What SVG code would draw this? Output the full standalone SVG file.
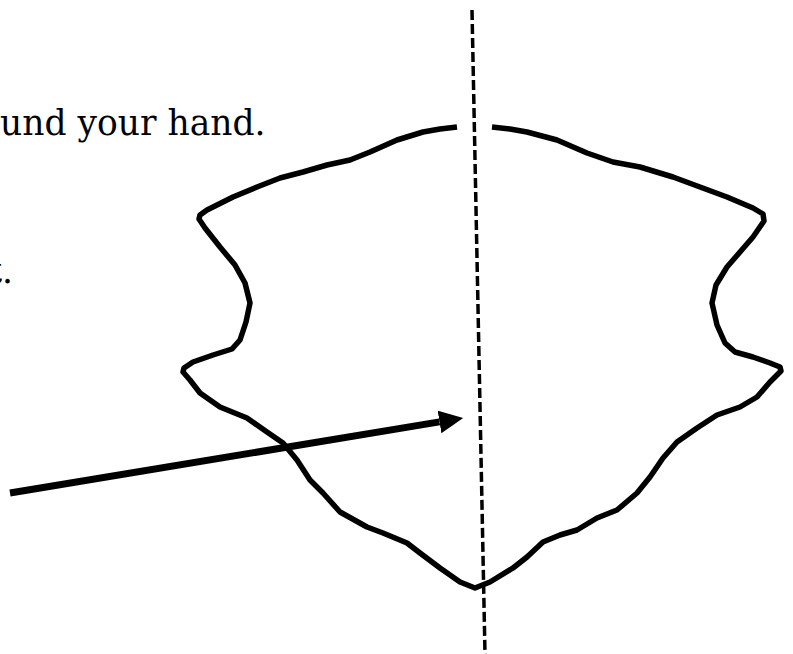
<svg xmlns="http://www.w3.org/2000/svg" width="793" height="654" viewBox="0 0 793 654">
  <style>
    .txt { font-family: "DejaVu Serif", "Liberation Serif", serif; font-size: 34.5px; fill: #000; }
    .outline { fill: none; stroke: #000; stroke-width: 5.5; stroke-linejoin: round; stroke-linecap: butt; }
    .axis { fill: none; stroke: #000; stroke-width: 3.5; stroke-dasharray: 10 4; }
    .arrow { fill: none; stroke: #000; stroke-width: 7; }
  </style>
  <defs>
    <marker id="head" markerUnits="userSpaceOnUse" markerWidth="25" markerHeight="24" refX="0" refY="11.5" orient="auto">
      <path d="M0,0 L24,11.5 L0,23 Z" fill="#000"/>
    </marker>
  </defs>
  <rect width="793" height="654" fill="#fff"/>
  <g id="text-1"><text class="txt" x="0" y="135">und your hand.</text></g>
  <g id="text-2"><text class="txt" x="13" y="283" text-anchor="end">t.</text></g>
  <g id="hand-outline">
    <polyline class="outline" points="457,127 440,129 423,132 397,140 370,152 350,160 327,165 303,172 280,178 257,187 233,197 207,210 200,215 199,219 205,228 220,247 235,265 245,283 250,303 246,322 240,340 232,349 213,355 193,362 184,368 183,372 190,380 200,393 210,400 220,407 247,418 267,432 283,443 297,460 310,480 323,493 340,512 367,527 383,533 407,543 420,553 440,568 460,582 475,588 490,582 513,568 527,557 543,542 560,535 577,530 597,518 617,510 637,493 650,477 663,458 677,442 697,428 717,415 740,407 757,397 770,382 781,371 780,367 770,363 753,357 735,352 725,343 717,325 712,303 716,285 727,267 740,252 753,237 764,221 763,214 753,208 727,197 700,187 673,177 640,167 613,162 587,153 557,140 527,132 510,129 492,127"/>
  </g>
  <g id="symmetry-line">
    <line class="axis" x1="472" y1="10" x2="485" y2="654"/>
  </g>
  <g id="connectors">
    <line class="arrow" x1="10" y1="493" x2="439.5" y2="421.9" marker-end="url(#head)"/>
  </g>
</svg>
